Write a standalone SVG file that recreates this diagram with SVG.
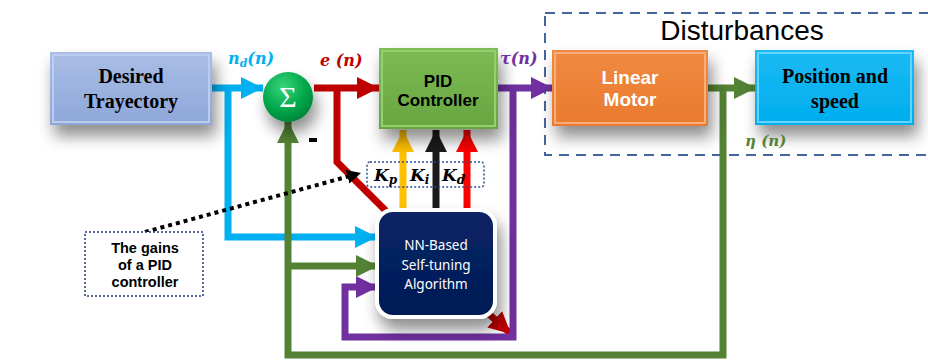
<svg xmlns="http://www.w3.org/2000/svg" width="928" height="361" viewBox="0 0 928 361">
<defs>
<style>
.c{fill:none;stroke-width:7;stroke-linejoin:miter;stroke-linecap:butt}
.bl{stroke:#00B0F0}.rd{stroke:#C00000}.gr{stroke:#548235}.pu{stroke:#7030A0}
.ye{stroke:#FFC000}.bk{stroke:#1A1A1A}.br{stroke:#FF0000}
.tb{font-family:"Liberation Serif",serif;font-weight:bold;font-size:20px;text-anchor:middle}
.ta{font-family:"Liberation Sans",Arial,sans-serif;font-weight:bold;text-anchor:middle}
.m{font-family:"DejaVu Serif","Liberation Serif",serif;font-weight:bold;font-style:italic}
</style>
<filter id="sh" x="-30%" y="-30%" width="170%" height="190%">
<feGaussianBlur in="SourceAlpha" stdDeviation="8"/>
<feOffset dx="4" dy="11" result="b"/>
<feComponentTransfer><feFuncA type="linear" slope="0.45"/></feComponentTransfer>
<feMerge><feMergeNode/><feMergeNode in="SourceGraphic"/></feMerge>
</filter>
<linearGradient id="gDes" x1="0" y1="0" x2="0" y2="1"><stop offset="0" stop-color="#A9BDE6"/><stop offset="1" stop-color="#8EA7D9"/></linearGradient>
<linearGradient id="gPid" x1="0" y1="0" x2="0" y2="1"><stop offset="0" stop-color="#7DBB55"/><stop offset="1" stop-color="#67A53F"/></linearGradient>
<linearGradient id="gMot" x1="0" y1="0" x2="0" y2="1"><stop offset="0" stop-color="#F08A40"/><stop offset="1" stop-color="#E97A2E"/></linearGradient>
<linearGradient id="gPos" x1="0" y1="0" x2="0" y2="1"><stop offset="0" stop-color="#1ABAF3"/><stop offset="1" stop-color="#00ADEE"/></linearGradient>
<radialGradient id="gSum" cx="0.4" cy="0.3" r="0.75"><stop offset="0" stop-color="#3BD47A"/><stop offset="0.6" stop-color="#00A84A"/><stop offset="1" stop-color="#00803A"/></radialGradient>
<linearGradient id="gNN" x1="0" y1="0" x2="0" y2="1"><stop offset="0" stop-color="#0A2466"/><stop offset="1" stop-color="#001C55"/></linearGradient>
<marker id="aBl" markerUnits="userSpaceOnUse" markerWidth="24" markerHeight="24" refX="22" refY="11" orient="auto"><path d="M0,0 L22,11 L0,22 Z" fill="#00B0F0"/></marker>
<marker id="aRd" markerUnits="userSpaceOnUse" markerWidth="24" markerHeight="24" refX="22" refY="11" orient="auto"><path d="M0,0 L22,11 L0,22 Z" fill="#C00000"/></marker>
<marker id="aGr" markerUnits="userSpaceOnUse" markerWidth="24" markerHeight="24" refX="22" refY="11" orient="auto"><path d="M0,0 L22,11 L0,22 Z" fill="#548235"/></marker>
<marker id="aPu" markerUnits="userSpaceOnUse" markerWidth="24" markerHeight="24" refX="22" refY="11" orient="auto"><path d="M0,0 L22,11 L0,22 Z" fill="#7030A0"/></marker>
<marker id="aYe" markerUnits="userSpaceOnUse" markerWidth="24" markerHeight="24" refX="22" refY="11" orient="auto"><path d="M0,0 L22,11 L0,22 Z" fill="#FFC000"/></marker>
<marker id="aBk" markerUnits="userSpaceOnUse" markerWidth="24" markerHeight="24" refX="22" refY="11" orient="auto"><path d="M0,0 L22,11 L0,22 Z" fill="#1A1A1A"/></marker>
<marker id="aBr" markerUnits="userSpaceOnUse" markerWidth="24" markerHeight="24" refX="22" refY="11" orient="auto"><path d="M0,0 L22,11 L0,22 Z" fill="#FF0000"/></marker>
<marker id="aDot" markerUnits="userSpaceOnUse" markerWidth="16" markerHeight="16" refX="14" refY="7" orient="auto"><path d="M0,0 L14,7 L0,14 Z" fill="#000"/></marker>
</defs>

<g id="disturbances">
<rect x="545" y="13" width="400" height="142" fill="none" stroke="#44649E" stroke-width="2" stroke-dasharray="10,7"/>
<text x="742" y="40" font-family="Liberation Sans,Arial,sans-serif" font-size="28" text-anchor="middle" fill="#000">Disturbances</text>
</g>

<g id="connectors">
<path class="c bl" d="M212,88 H263" marker-end="url(#aBl)"/>
<path class="c bl" d="M228,88 V237 H377" marker-end="url(#aBl)"/>
<path class="c rd" d="M314,88 H379" marker-end="url(#aRd)"/>
<path class="c rd" d="M337,88 V162 L386,211"/>
<path class="c rd" d="M480,306 L511,334" marker-end="url(#aRd)"/>
<path class="c pu" d="M498,88 H553" marker-end="url(#aPu)"/>
<path class="c pu" d="M513,88 V337 H345 V287 H378" marker-end="url(#aPu)"/>
<path class="c gr" d="M708,88 H756" marker-end="url(#aGr)"/>
<path class="c gr" d="M723,88 V355 H288 V121" marker-end="url(#aGr)"/>
<path class="c gr" d="M288,266 H378" marker-end="url(#aGr)"/>
<path class="c ye" d="M403,212 V130" marker-end="url(#aYe)"/>
<path class="c bk" d="M436,212 V130" marker-end="url(#aBk)"/>
<path class="c br" d="M467,212 V130" marker-end="url(#aBr)"/>
<path d="M145,232 L361,173" fill="none" stroke="#000" stroke-width="4" stroke-dasharray="4,4" marker-end="url(#aDot)"/>
</g>

<g id="desired">
<rect x="50" y="52" width="162" height="73" fill="url(#gDes)" filter="url(#sh)"/>
<rect x="53" y="55" width="156" height="67" fill="none" stroke="#BCCCEE" stroke-width="2"/>
<text class="tb" x="131" y="83">Desired</text>
<text class="tb" x="131" y="108">Trayectory</text>
</g>

<g id="sum">
<circle cx="288" cy="97" r="25" fill="url(#gSum)" filter="url(#sh)"/>
<text x="288" y="107" font-family="Liberation Serif,serif" font-size="30" fill="#fff" text-anchor="middle">Σ</text>
</g>

<g id="pid">
<rect x="379" y="48" width="119" height="81" fill="url(#gPid)" filter="url(#sh)"/>
<rect x="382" y="51" width="113" height="75" fill="none" stroke="#95CF6E" stroke-width="2"/>
<text class="ta" x="438" y="87" font-size="17">PID</text>
<text class="ta" x="438" y="106" font-size="17">Controller</text>
</g>

<g id="motor">
<rect x="552" y="50" width="156" height="76" fill="url(#gMot)" filter="url(#sh)"/>
<rect x="555" y="53" width="150" height="70" fill="none" stroke="#F6AE7A" stroke-width="2"/>
<text class="ta" x="630" y="84" font-size="19" fill="#fff">Linear</text>
<text class="ta" x="630" y="106" font-size="19" fill="#fff">Motor</text>
</g>

<g id="position">
<rect x="755" y="50" width="159" height="75" fill="url(#gPos)" filter="url(#sh)"/>
<rect x="758" y="53" width="153" height="69" fill="none" stroke="#66D4FA" stroke-width="2"/>
<text class="tb" x="835" y="83">Position and</text>
<text class="tb" x="835" y="108">speed</text>
</g>

<g id="nn">
<rect x="377" y="210" width="118" height="107" rx="16" fill="url(#gNN)" stroke="#fff" stroke-width="4" filter="url(#sh)"/>
<text x="436" y="250" font-family="Noto Sans,Open Sans,sans-serif" font-size="13.5" fill="#fff" text-anchor="middle">NN-Based</text>
<text x="436" y="270" font-family="Noto Sans,Open Sans,sans-serif" font-size="13.5" fill="#fff" text-anchor="middle">Self-tuning</text>
<text x="436" y="289" font-family="Noto Sans,Open Sans,sans-serif" font-size="13.5" fill="#fff" text-anchor="middle">Algorithm</text>
</g>

<g id="gains">
<rect x="367" y="162" width="117" height="25" rx="3" fill="none" stroke="#2F4F8F" stroke-width="1.5" stroke-dasharray="2,2"/>
<text class="m" x="374" y="181" font-size="17">K<tspan font-size="12" dy="3">p</tspan></text>
<text class="m" x="410" y="181" font-size="17">K<tspan font-size="12" dy="3">i</tspan></text>
<text class="m" x="442" y="181" font-size="17">K<tspan font-size="12" dy="3">d</tspan></text>
</g>

<g id="note">
<rect x="85" y="232" width="118" height="64" fill="#fff" stroke="#1F3A7A" stroke-width="1.5" stroke-dasharray="2,2"/>
<text class="ta" x="145" y="253" font-size="14.5">The gains</text>
<text class="ta" x="145" y="270" font-size="14.5">of a PID</text>
<text class="ta" x="145" y="287" font-size="14.5">controller</text>
</g>

<g id="labels">
<text class="m" x="228" y="64" font-size="16" fill="#00B0F0">n<tspan font-size="11" dy="3">d</tspan><tspan dy="-3">(n)</tspan></text>
<text class="m" x="320" y="66" font-size="16" fill="#C00000">e (n)</text>
<text class="m" x="500" y="64" font-size="16" fill="#7030A0">τ(n)</text>
<text class="m" x="745" y="146" font-size="15" fill="#548235">η (n)</text>
<rect x="309" y="138" width="8" height="4" fill="#000"/>
</g>
</svg>
